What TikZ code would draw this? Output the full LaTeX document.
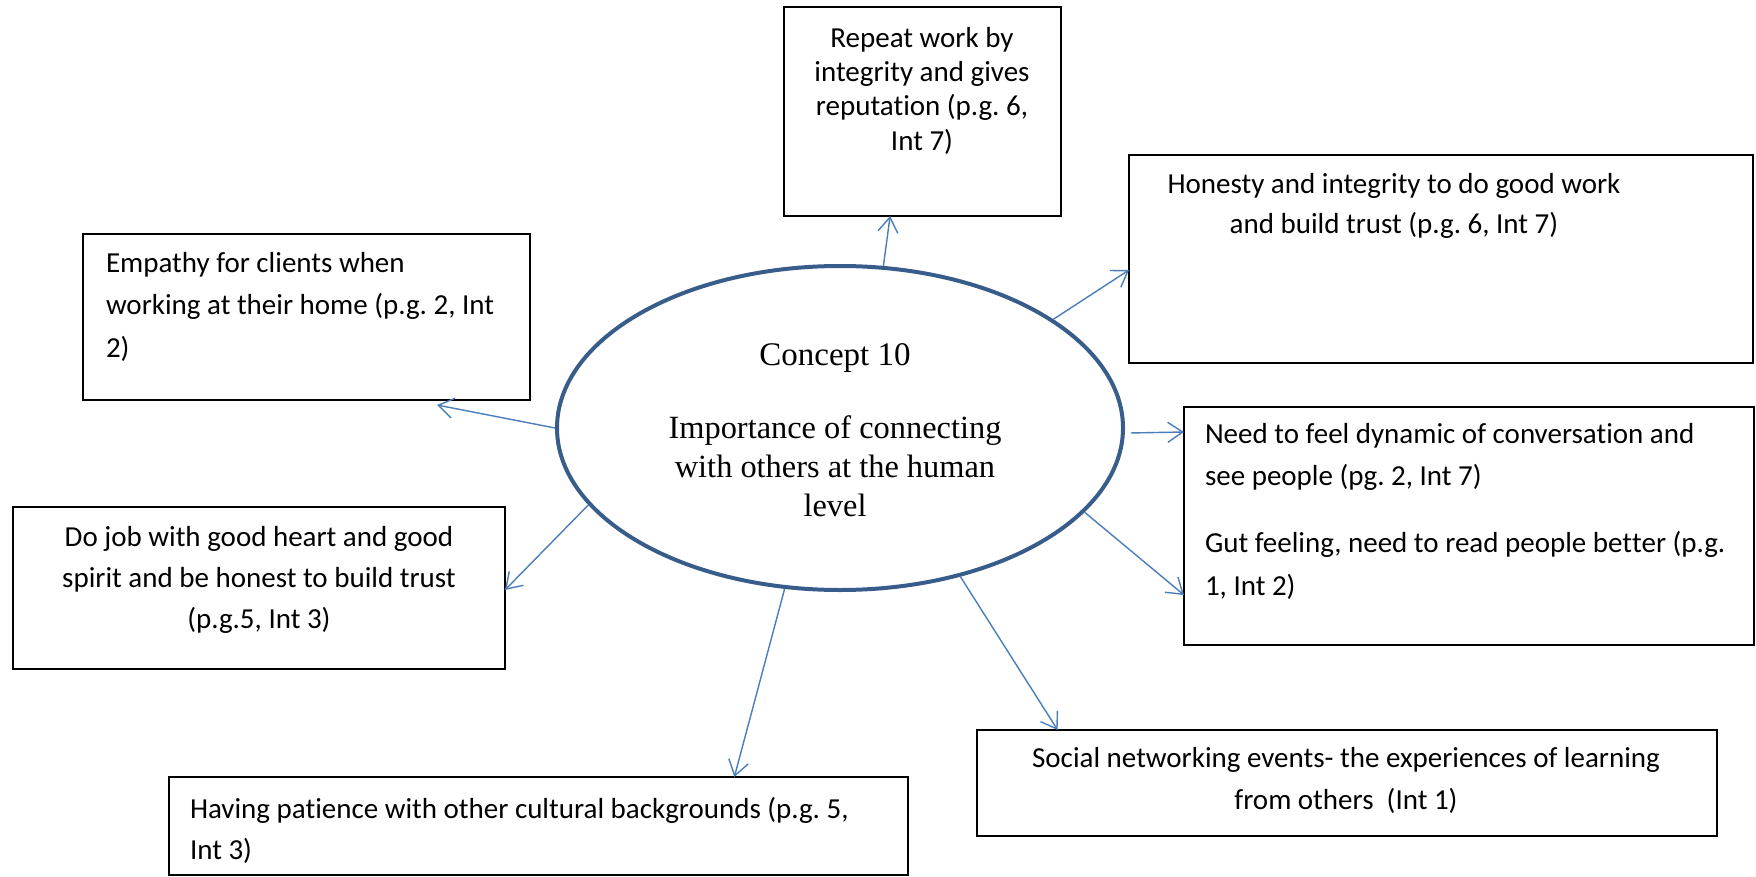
\documentclass[tikz,border=0pt]{standalone}
\usepackage{fontspec}
\setmainfont{Carlito}[Ligatures={CommonOff,RareOff,ContextualOff},Contextuals=AlternateOff]
\newfontfamily\serifface{Liberation Serif}
\usetikzlibrary{shapes.geometric,arrows.meta,calc}
\definecolor{ellblue}{HTML}{385D8A}
\definecolor{linkblue}{HTML}{4A7EBB}
\frenchspacing
% keeps "t" and "i" apart so the font does not join them
\newcommand\brk{\kern0pt\relax}
\begin{document}
\begin{tikzpicture}[x=0.5pt,y=-0.5pt,
  box/.style={draw=black,line width=0.9pt,rectangle,inner sep=0pt,outer sep=0pt},
  txt/.style={inner sep=0pt,outer sep=0pt,font=\fontsize{14.5}{21}\selectfont},
  link/.style={draw=linkblue,line width=0.7pt,-{Straight Barb[length=7.5pt,width=10pt,line width=0.7pt]}}]
\useasboundingbox (0,0) rectangle (1756,877);
\fill[white] (0,0) rectangle (1756,877);

% central concept
\node[ellipse,draw=ellblue,line width=2pt,minimum width=283pt,minimum height=162pt,inner sep=0pt] (ell) at (840,428) {};
\node[inner sep=0pt,font=\serifface\fontsize{16.5}{19.5}\selectfont] (ctitle) at (835,358) {Concept 10};
\node[inner sep=0pt,anchor=north,align=center,font=\serifface\fontsize{16.2}{19.5}\selectfont] (cbody) at (835,415)
  {Importance of connecting\\with others at the human\\level};

% surrounding boxes
\node[box,minimum width=138.5pt,minimum height=104.5pt] (rep) at (922.5,111.5) {};
\node[txt,anchor=north,align=center,font=\fontsize{14.5}{17.2}\selectfont] (reptxt) at (922,27)
  {Repeat work by\\integrity and gives\\reputat\brk ion (p.g. 6,\\Int 7)};

\node[box,minimum width=312pt,minimum height=104pt] (hon) at (1441,259) {};
\node[txt,anchor=north,align=center,font=\fontsize{14.5}{20}\selectfont] (hontxt) at (1394,173)
  {Honesty and integrity to do good work\\and build trust (p.g. 6, Int 7)};

\node[box,minimum width=223.5pt,minimum height=83pt] (emp) at (306.5,317) {};
\node[txt,anchor=north west,align=left,font=\fontsize{14.5}{21.3}\selectfont] (emptxt) at (106,252)
  {Empathy for clients when\\working at their home (p.g. 2, Int\\2)};

\node[box,minimum width=285pt,minimum height=119pt] (need) at (1469,526) {};
\node[txt,anchor=north west,align=left,font=\fontsize{14.5}{21.3}\selectfont] (needtxt) at (1205,423)
  {Need to feel dynamic of conversat\brk ion and\\see people (pg. 2, Int 7)\\[12.3pt]Gut feeling, need to read people bet\brk ter (p.g.\\1, Int 2)};

\node[box,minimum width=246pt,minimum height=81pt] (job) at (259,588) {};
\node[txt,anchor=north,align=center,font=\fontsize{14.5}{20.7}\selectfont] (jobtxt) at (259,526)
  {Do job with good heart and good\\spirit and be honest to build trust\\(p.g.5, Int 3)};

\node[box,minimum width=369.5pt,minimum height=49pt] (hav) at (538.5,826) {};
\node[txt,anchor=north west,align=left,font=\fontsize{14.5}{20.7}\selectfont] (havtxt) at (190,797)
  {Having pat\brk ience with other cultural backgrounds (p.g. 5,\\Int 3)};

\node[box,minimum width=370pt,minimum height=53pt] (soc) at (1347,783) {};
\node[txt,anchor=north,align=center,font=\fontsize{14.5}{21.3}\selectfont] (soctxt) at (1346,747)
  {Social networking events- the experiences of learning\\from others\ \ (Int 1)};

% connectors
\draw[link] (ell.75) -- ($(rep.south west)!0.383!(rep.south east)$);
\draw[link] (ell.27.5) -- ($(hon.north west)!0.553!(hon.south west)$);
\draw[link] ($(ell.-1)+(6,0)$) -- ($(need.north west)!0.105!(need.south west)$);
\draw[link] (ell.-19) -- ($(need.north west)!0.79!(need.south west)$);
\draw[link] (ell.-51) -- ($(soc.north west)!0.109!(soc.north east)$);
\draw[link] (ell.251) -- ($(hav.north west)!0.765!(hav.north east)$);
\draw[link] (ell.197) -- ($(job.north east)!0.512!(job.south east)$);
\draw[link] (ell.180.7) -- ($(emp.south west)!0.792!(emp.south east)+(0,5)$);
\end{tikzpicture}
\end{document}
